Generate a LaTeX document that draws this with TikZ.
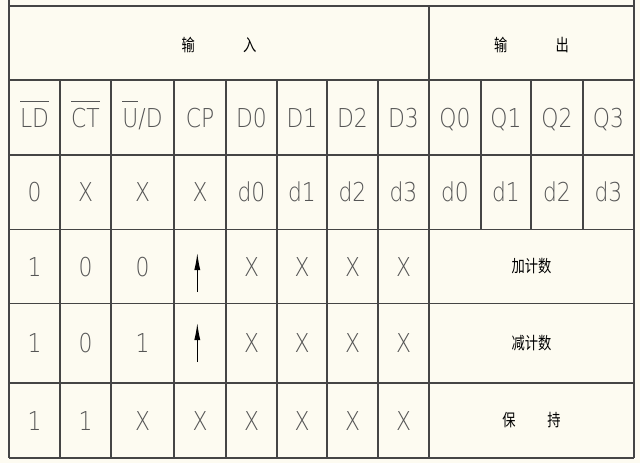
\documentclass[tikz,border=0pt]{standalone}
\usepackage{fontspec}
\setmainfont{DejaVu Sans ExtraLight}
\newfontfamily\cjk{Noto Sans CJK SC}
\usetikzlibrary{arrows.meta}
\definecolor{paper}{HTML}{FDFBF1}
\definecolor{rulegray}{HTML}{454545}
\definecolor{ink}{HTML}{555555}
\newcommand\ovl[1]{\vbox{\hrule height 1.1pt\kern 6pt\hbox{#1}}}

\begin{document}
\begin{tikzpicture}[x=1pt, y=-1pt,
    grid/.style={draw=rulegray, line width=1.3pt},
    sym/.style={text=ink, inner sep=0pt, text height=19pt, text depth=0pt,
                xscale=0.84, font=\fontsize{26}{26}\selectfont},
    hz/.style={text=black, inner sep=0pt, xscale=0.78,
               font=\cjk\fontsize{17}{17}\selectfont},
    clk/.style={-{Latex[length=17pt,width=6pt]}, draw=black, line width=1pt}]
    %define the sheet
    \fill[paper] (0,0) rectangle (640,463);
    \useasboundingbox (0,0) rectangle (640,463);

    %define the rules
    \foreach \y in {6,80,155,229.5,303.5,383,458}
        \draw[grid] (9,\y) -- (634,\y);
    \draw[grid] (9,0) -- (9,458);
    \draw[grid] (634,0) -- (634,458);
    \draw[grid] (429,6) -- (429,458);
    \foreach \x in {60,111,174,226,277,327,378}
        \draw[grid] (\x,80) -- (\x,458);
    \foreach \x in {481,531,583}
        \draw[grid] (\x,80) -- (\x,229.5);

    %define the headings
    \node[hz] (in)  at (219,45)   {输\hspace{62pt}入};
    \node[hz] (out) at (531.5,45) {输\hspace{62pt}出};

    \foreach \x/\t [count=\i] in {34.5/\ovl{LD}, 85.5/\ovl{CT}, 142.5/{\ovl{U}/D},
            200/CP, 251.5/D0, 302/D1, 352.5/D2, 403.5/D3,
            455/Q0, 506/Q1, 557/Q2, 608.5/Q3}
        \node[sym] (h\i) at (\x,117.5) {\t};

    %define the rows
    \foreach \x/\t [count=\i] in {34.5/0, 85.5/X, 142.5/X, 200/X, 251.5/d0,
            302/d1, 352.5/d2, 403.5/d3, 455/d0, 506/d1, 557/d2, 608.5/d3}
        \node[sym] (a\i) at (\x,192) {\t};

    \foreach \x/\t [count=\i] in {34.5/1, 85.5/0, 142.5/0,
            251.5/X, 302/X, 352.5/X, 403.5/X}
        \node[sym] (b\i) at (\x,266.5) {\t};
    \node[hz] (up) at (531.5,266.5) {加计数};

    \foreach \x/\t [count=\i] in {34.5/1, 85.5/0, 142.5/1,
            251.5/X, 302/X, 352.5/X, 403.5/X}
        \node[sym] (c\i) at (\x,343) {\t};
    \node[hz] (down) at (531.5,343) {减计数};

    \foreach \x/\t [count=\i] in {34.5/1, 85.5/1, 142.5/X, 200/X,
            251.5/X, 302/X, 352.5/X, 403.5/X}
        \node[sym] (d\i) at (\x,420.5) {\t};
    \node[hz] (hold) at (531.5,420.5) {保\hspace{41pt}持};

    %define the clock edges
    \coordinate (b0s) at (197.3,292);
    \coordinate (b0e) at (197.3,253);
    \coordinate (c0s) at (197.3,362);
    \coordinate (c0e) at (197.3,323);
    \draw[clk] (b0s) -- (b0e);
    \draw[clk] (c0s) -- (c0e);
\end{tikzpicture}
\end{document}
